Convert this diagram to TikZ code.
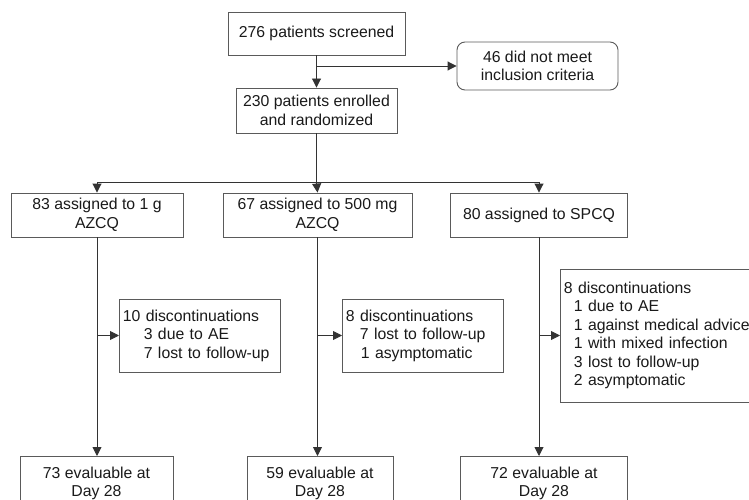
\documentclass[tikz,border=0pt]{standalone}
\usepackage{fontspec}
\setmainfont{Liberation Sans}
\usetikzlibrary{arrows.meta}
\definecolor{linec}{HTML}{333333}
\definecolor{boxc}{HTML}{5A5A5A}
\definecolor{txtc}{HTML}{1A1A1A}
\begin{document}
\begin{tikzpicture}[x=1pt,y=-1pt,
  every node/.style={font=\fontsize{15.8}{18.5}\selectfont, text=txtc},
  box/.style={draw=boxc, line width=0.9pt, fill=white, rectangle, align=center, inner sep=0pt},
  rbox/.style={box, rounded corners=8pt},
  dbox/.style={draw=boxc, line width=0.9pt, fill=white, rectangle, align=left, inner xsep=3.5pt, inner ysep=0pt, anchor=west},
  conn/.style={draw=linec, line width=0.9pt},
  arr/.style={conn, -{Triangle[length=9pt,width=9pt]}}]
\useasboundingbox (0,0) rectangle (749,500);
\clip (0,0) rectangle (749,500);
% top
\node[box, minimum width=177pt, minimum height=43pt] (s) at (316.5,33.5) {276 patients screened};
\node[box, minimum width=161pt, minimum height=45pt] (e) at (316.5,110.5) {230 patients enrolled\\and randomized};
\node[rbox, minimum width=161pt, minimum height=48pt] (x) at (537.5,66) {46 did not meet\\inclusion criteria};
% arms
\node[box, minimum width=172pt, minimum height=44pt] (a1) at (97,215) {83 assigned to 1 g\\AZCQ};
\node[box, minimum width=189pt, minimum height=44pt] (a2) at (317.5,215) {67 assigned to 500 mg\\AZCQ};
\node[box, minimum width=177pt, minimum height=44pt] (a3) at (539,215) {80 assigned to SPCQ};
% discontinuations
\node[dbox, text width=154pt, minimum height=73pt] (d1) at (119,335.5) {10 discontinuations\\\hspace*{21pt}3 due to AE\\\hspace*{21pt}7 lost to follow-up};
\node[dbox, text width=154pt, minimum height=73pt] (d2) at (342,335.5) {8 discontinuations\\\hspace*{14pt}7 lost to follow-up\\\hspace*{15pt}1 asymptomatic};
\node[dbox, text width=230pt, minimum height=133pt] (d3) at (560,335.5) {8 discontinuations\\\hspace*{10pt}1 due to AE\\\hspace*{10pt}1 against medical advice\\\hspace*{10pt}1 with mixed infection\\\hspace*{10pt}3 lost to follow-up\\\hspace*{10pt}2 asymptomatic};
% evaluable
\node[box, minimum width=153pt, minimum height=54pt, anchor=north] (f1) at (96.5,456) {73 evaluable at\\Day 28};
\node[box, minimum width=146pt, minimum height=54pt, anchor=north] (f2) at (320,456) {59 evaluable at\\Day 28};
\node[box, minimum width=167pt, minimum height=54pt, anchor=north] (f3) at (544,456) {72 evaluable at\\Day 28};
% connectors
\coordinate (b0) at (s.south |- x.west);
\draw[arr] (s.south) -- (e.north);
\draw[arr] (b0) -- (x.west);
\coordinate (m) at (316.5,182);
\draw[conn] (e.south) -- (m);
\draw[arr] (m) -- (a2.north);
\draw[arr] (m) -| (a1.north);
\draw[arr] (m) -| (a3.north);
\coordinate (j1) at (a1.south |- d1.west);
\coordinate (j2) at (a2.south |- d2.west);
\coordinate (j3) at (a3.south |- d3.west);
\draw[arr] (a1.south) -- (a1.south |- f1.north);
\draw[arr] (a2.south) -- (a2.south |- f2.north);
\draw[arr] (a3.south) -- (a3.south |- f3.north);
\draw[arr] (j1) -- (d1.west);
\draw[arr] (j2) -- (d2.west);
\draw[arr] (j3) -- (d3.west);
\end{tikzpicture}
\end{document}
